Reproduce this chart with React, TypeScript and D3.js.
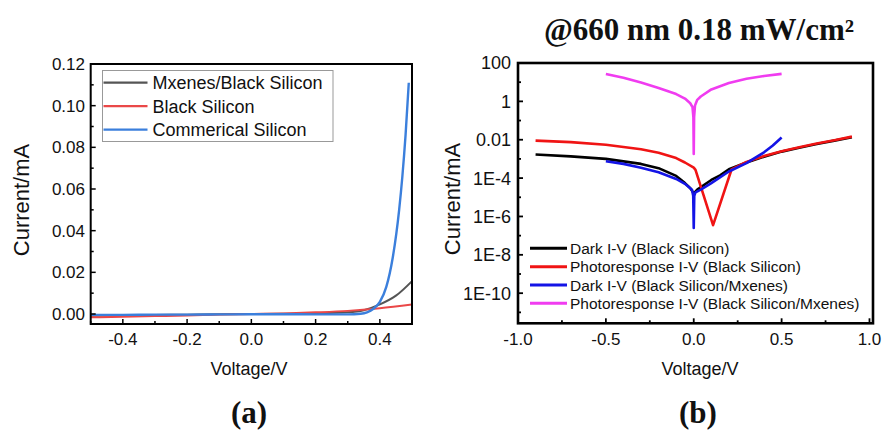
import React from "react";
import * as d3 from "d3";

// ---------- Panel (a) data ----------
const mxV = [-0.5, -0.4, -0.3, -0.2, -0.1, 0, 0.1, 0.2, 0.3, 0.35, 0.4, 0.45, 0.5];
const mxI = [-0.0009, -0.0007, -0.0005, -0.0003, -0.0001, 0, 0.0001, 0.0003, 0.0008, 0.0018, 0.0046, 0.0088, 0.0158];
const bsV = [-0.5, -0.4, -0.3, -0.2, -0.1, 0, 0.1, 0.2, 0.3, 0.4, 0.5];
const bsI = [-0.0016, -0.0013, -0.001, -0.0007, -0.0003, 0, 0.0003, 0.0008, 0.0015, 0.0028, 0.0046];
const csV = [-0.5, -0.4, -0.3, -0.2, -0.1, 0, 0.1, 0.2, 0.3, 0.34, 0.36, 0.38, 0.4, 0.42, 0.44, 0.46, 0.47, 0.48, 0.49];
const csI = [-0.0004, -0.0004, -0.0003, -0.0003, -0.0002, -0.0001, -0.0001, -0.0002, -0.0002, 0.0001, 0.0008, 0.0025, 0.0058, 0.013, 0.027, 0.05, 0.066, 0.086, 0.111];
const legendA = ["Mxenes/Black Silicon", "Black Silicon", "Commerical Silicon"];
const colorsA = ["#555555", "#ea4848", "#3b7fdc"];
const xTicksA = [-0.4, -0.2, 0.0, 0.2, 0.4];
const xMinorA = [-0.5, -0.3, -0.1, 0.1, 0.3, 0.5];
const yTicksA = [0, 0.02, 0.04, 0.06, 0.08, 0.1, 0.12];
const yMinorA = [0.01, 0.03, 0.05, 0.07, 0.09, 0.11];

// ---------- Panel (b) data ----------
const dkV = [-0.9, -0.7, -0.5, -0.3, -0.2, -0.1, -0.05, -0.02, 0, 0.02, 0.06, 0.1, 0.15, 0.2, 0.3, 0.4, 0.5, 0.6, 0.7, 0.8, 0.9];
const dkI = [1.7e-3, 1.35e-3, 1.0e-3, 5.5e-4, 3.3e-4, 1.3e-4, 5.5e-5, 3e-5, 1.6e-5, 2.5e-5, 4.5e-5, 8e-5, 1.4e-4, 2.9e-4, 6.5e-4, 1.3e-3, 2.4e-3, 3.8e-3, 6e-3, 9e-3, 1.35e-2];
const phV = [-0.9, -0.7, -0.5, -0.3, -0.2, -0.1, -0.05, 0, 0.01, 0.11, 0.215, 0.3, 0.4, 0.5, 0.6, 0.7, 0.8, 0.9];
const phI = [9e-3, 7.5e-3, 5.5e-3, 3.2e-3, 2.1e-3, 1.1e-3, 6.5e-4, 3.5e-4, 2.7e-4, 3.5e-7, 2.8e-4, 7e-4, 1.4e-3, 2.5e-3, 4.1e-3, 6.3e-3, 9.5e-3, 1.45e-2];
const dmV = [-0.5, -0.4, -0.3, -0.2, -0.1, -0.05, -0.01, -0.003, 0, 0.003, 0.01, 0.04, 0.1, 0.2, 0.3, 0.36, 0.4, 0.45, 0.5];
const dmI = [7.5e-4, 5.5e-4, 3.5e-4, 2e-4, 9e-5, 5e-5, 2.5e-5, 1.2e-5, 2.5e-7, 1.2e-5, 1.8e-5, 2.5e-5, 5.5e-5, 2.2e-4, 6e-4, 1.3e-3, 2.2e-3, 5e-3, 1.3e-2];
const pmV = [-0.5, -0.4, -0.3, -0.2, -0.1, -0.05, -0.02, -0.007, -0.002, 0, 0.002, 0.007, 0.02, 0.04, 0.1, 0.2, 0.3, 0.4, 0.5];
const pmI = [27, 17, 9.5, 5, 2.4, 1.4, 0.8, 0.5, 0.15, 1.8e-3, 0.15, 0.6, 1.2, 1.8, 4.2, 9, 15, 21, 27];
const legendB = [
  "Dark I-V (Black Silicon)",
  "Photoresponse I-V (Black Silicon)",
  "Dark I-V (Black Silicon/Mxenes)",
  "Photoresponse I-V (Black Silicon/Mxenes)",
];
const colorsB = ["#000000", "#f01414", "#1414e6", "#f03cf0"];
const xTicksB = [-1.0, -0.5, 0.0, 0.5, 1.0];
const xMinorB = [-0.75, -0.25, 0.25, 0.75];
const yTicksB = [1e2, 1, 1e-2, 1e-4, 1e-6, 1e-8, 1e-10];
const yTickLabelsB = ["100", "1", "0.01", "1E-4", "1E-6", "1E-8", "1E-10"];
const yMinorB = [10, 0.1, 1e-3, 1e-5, 1e-7, 1e-9, 1e-11];

const SANS = "'Liberation Sans', Arial, sans-serif";
const SERIF = "'Liberation Serif', 'Times New Roman', serif";

export default function App() {
  // panel a scales
  const axL = 90.7, axR = 412, ayT = 64, ayB = 324;
  const xA = d3.scaleLinear().domain([-0.5, 0.5]).range([axL, axR]);
  const yA = d3.scaleLinear().domain([-0.0048, 0.12]).range([ayB, ayT]);
  const lineA = d3.line<[number, number]>().x(d => xA(d[0])).y(d => yA(d[1])).curve(d3.curveMonotoneX);
  const seriesA = [
    { v: mxV, i: mxI },
    { v: bsV, i: bsI },
    { v: csV, i: csI },
  ];

  // panel b scales
  const bxL = 518, bxR = 873, byT = 63, byB = 323.3;
  const xB = d3.scaleLinear().domain([-1, 1.02]).range([bxL, bxR]);
  const yB = d3.scaleLog().domain([Math.pow(10, -11.57), 100]).range([byB, byT]);
  const lineB = d3.line<[number, number]>().x(d => xB(d[0])).y(d => yB(d[1]));
  const seriesB = [
    { v: dkV, i: dkI },
    { v: phV, i: phI },
    { v: dmV, i: dmI },
    { v: pmV, i: pmI },
  ];

  return (
    <svg width={885} height={430} style={{ position: "absolute", left: 0, top: 0, background: "#fff" }}>
      <defs>
        <clipPath id="clipA"><rect x={axL} y={ayT} width={axR - axL} height={ayB - ayT} /></clipPath>
        <clipPath id="clipB"><rect x={bxL} y={byT} width={bxR - bxL} height={byB - byT} /></clipPath>
      </defs>

      {/* ---------- Panel (a) ---------- */}
      <g clipPath="url(#clipA)">
        {seriesA.map((s, k) => (
          <path key={k} d={lineA(s.v.map((v, j) => [v, s.i[j]] as [number, number])) || ""}
            fill="none" stroke={colorsA[k]} strokeWidth={k === 2 ? 2.4 : 2} />
        ))}
      </g>
      <rect x={axL} y={ayT} width={axR - axL} height={ayB - ayT} fill="none" stroke="#000" strokeWidth={2} />
      {xTicksA.map(t => (
        <g key={"xa" + t}>
          <line x1={xA(t)} x2={xA(t)} y1={ayB} y2={ayB - 5} stroke="#000" strokeWidth={1.5} />
          <text x={xA(t)} y={345} textAnchor="middle" fontFamily={SANS} fontSize={17} fill="#111">{t.toFixed(1)}</text>
        </g>
      ))}
      {xMinorA.map(t => (
        <line key={"xam" + t} x1={xA(t)} x2={xA(t)} y1={ayB} y2={ayB - 3} stroke="#000" strokeWidth={1.5} />
      ))}
      {yTicksA.map(t => (
        <g key={"ya" + t}>
          <line x1={axL} x2={axL + 5} y1={yA(t)} y2={yA(t)} stroke="#000" strokeWidth={1.5} />
          <text x={85} y={yA(t)} dy="0.36em" textAnchor="end" fontFamily={SANS} fontSize={17} fill="#111">{t.toFixed(2)}</text>
        </g>
      ))}
      {yMinorA.map(t => (
        <line key={"yam" + t} x1={axL} x2={axL + 3} y1={yA(t)} y2={yA(t)} stroke="#000" strokeWidth={1.5} />
      ))}
      <text x={249} y={375} textAnchor="middle" fontFamily={SANS} fontSize={18} fill="#111">Voltage/V</text>
      <text transform="translate(29,200) rotate(-90)" textAnchor="middle" fontFamily={SANS} fontSize={22} fill="#111">Current/mA</text>
      {/* legend a */}
      <rect x={102.5} y={70.5} width={230.5} height={71} fill="#fff" stroke="#999" strokeWidth={1} />
      {legendA.map((name, k) => (
        <g key={"la" + k}>
          <line x1={103.5} x2={147.5} y1={82.7 + k * 23.5} y2={82.7 + k * 23.5} stroke={colorsA[k]} strokeWidth={2.2} />
          <text x={152.5} y={82.7 + k * 23.5} dy="0.36em" fontFamily={SANS} fontSize={18} fill="#111">{name}</text>
        </g>
      ))}
      <text x={249} y={423} textAnchor="middle" fontFamily={SERIF} fontWeight="bold" fontSize={31} fill="#111">(a)</text>

      {/* ---------- Panel (b) ---------- */}
      <text x={699} y={40} textAnchor="middle" fontFamily={SERIF} fontWeight="bold" fontSize={31} fill="#111">@660 nm 0.18 mW/cm²</text>
      <g clipPath="url(#clipB)">
        {seriesB.map((s, k) => (
          <path key={k} d={lineB(s.v.map((v, j) => [v, s.i[j]] as [number, number])) || ""}
            fill="none" stroke={colorsB[k]} strokeWidth={2.6} strokeLinejoin="round" />
        ))}
      </g>
      <rect x={bxL} y={byT} width={bxR - bxL} height={byB - byT} fill="none" stroke="#000" strokeWidth={2.6} />
      {xTicksB.map(t => (
        <g key={"xb" + t}>
          <line x1={xB(t)} x2={xB(t)} y1={byB} y2={byB - 5} stroke="#000" strokeWidth={1.8} />
          <text x={xB(t)} y={345} textAnchor="middle" fontFamily={SANS} fontSize={17} fill="#111">{t.toFixed(1)}</text>
        </g>
      ))}
      {xMinorB.map(t => (
        <line key={"xbm" + t} x1={xB(t)} x2={xB(t)} y1={byB} y2={byB - 3} stroke="#000" strokeWidth={1.8} />
      ))}
      {yTicksB.map((t, k) => (
        <g key={"yb" + k}>
          <line x1={bxL} x2={bxL + 5} y1={yB(t)} y2={yB(t)} stroke="#000" strokeWidth={1.8} />
          <text x={511} y={yB(t)} dy="0.36em" textAnchor="end" fontFamily={SANS} fontSize={18} fill="#111">{yTickLabelsB[k]}</text>
        </g>
      ))}
      {yMinorB.map((t, k) => (
        <line key={"ybm" + k} x1={bxL} x2={bxL + 3} y1={yB(t)} y2={yB(t)} stroke="#000" strokeWidth={1.8} />
      ))}
      <text x={700} y={375} textAnchor="middle" fontFamily={SANS} fontSize={18} fill="#111">Voltage/V</text>
      <text transform="translate(460,199) rotate(-90)" textAnchor="middle" fontFamily={SANS} fontSize={22} fill="#111">Current/mA</text>
      {legendB.map((name, k) => (
        <g key={"lb" + k}>
          <line x1={530} x2={567} y1={248.3 + k * 18.35} y2={248.3 + k * 18.35} stroke={colorsB[k]} strokeWidth={3} />
          <text x={570} y={248.3 + k * 18.35} dy="0.36em" fontFamily={SANS} fontSize={15.5} fill="#111">{name}</text>
        </g>
      ))}
      <text x={698} y={423} textAnchor="middle" fontFamily={SERIF} fontWeight="bold" fontSize={31} fill="#111">(b)</text>
    </svg>
  );
}
